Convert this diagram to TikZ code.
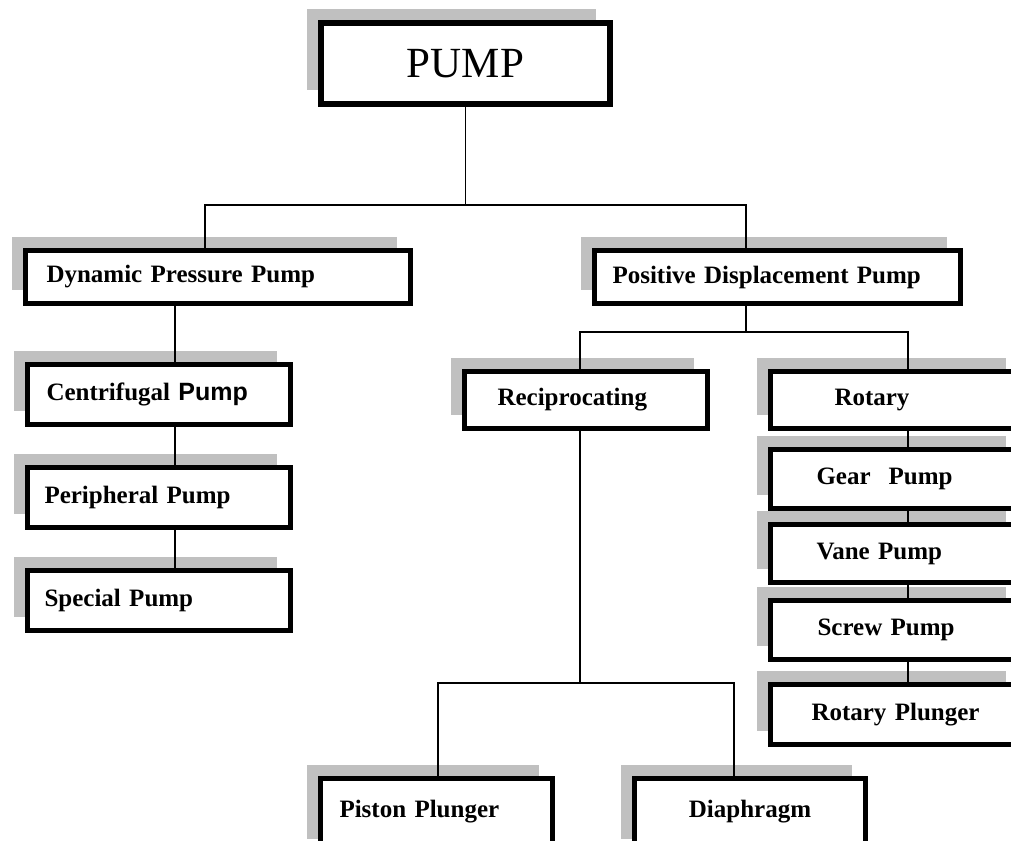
\documentclass[tikz,border=0pt]{standalone}
\usepackage{fontspec}
\setmainfont{Liberation Serif}
\newfontfamily\pumpsans{Liberation Sans}
\usetikzlibrary{shadows}
\definecolor{shadowgray}{RGB}{192,192,192}

\tikzset{
  pbox/.style={draw, fill=white, line width=5pt, align=left,
    inner xsep=0pt, inner ysep=0pt, minimum height=#1,
    font=\bfseries\fontsize{25}{30}\selectfont,
    general shadow={fill=shadowgray, shadow xshift=-14pt, shadow yshift=14pt}},
  pbox/.default=60pt,
  link/.style={line width=1.5pt},
}

\begin{document}
\begin{tikzpicture}[x=1pt, y=-1pt]

    % page frame
    \path[use as bounding box, clip] (0,0) rectangle (1011,840);

    % top
    \node[pbox=81pt, line width=6pt, text width=289pt, align=center,
          font=\fontsize{43}{50}\selectfont] (pump) at (465.5,63.5) {PUMP};

    % two main kinds
    \node[pbox=53pt, text width=385pt] (dyn) at (218,277) {\hspace*{21pt}Dynamic Pressure Pump};
    \node[pbox=53pt, text width=366pt] (pos) at (777.5,277) {\hspace*{18pt}Positive Displacement Pump};

    % dynamic column
    \node[pbox, text width=263pt] (cen) at (159,394.5) {\hspace*{19pt}Centrifugal {\pumpsans Pump}};
    \node[pbox, text width=263pt] (per) at (159,497.5) {\hspace*{17pt}Peripheral Pump};
    \node[pbox, text width=263pt] (spe) at (159,600.5) {\hspace*{17pt}Special Pump};

    % positive displacement
    \node[pbox=57pt, text width=243pt] (rec) at (586,400) {\hspace*{33pt}Reciprocating};
    \node[pbox=57pt, text width=249pt] (rot) at (895,400) {\hspace*{64pt}Rotary};
    \node[pbox=59pt, text width=249pt] (gea) at (895,479) {\hspace*{46pt}Gear\hspace*{18pt}Pump};
    \node[pbox=58pt, text width=249pt] (van) at (895,553.5) {\hspace*{46pt}Vane Pump};
    \node[pbox=59pt, text width=249pt] (scr) at (895,630) {\hspace*{47pt}Screw Pump};
    \node[pbox=60pt, text width=249pt] (rpl) at (895,714.5) {\hspace*{41pt}Rotary Plunger};

    % reciprocating kinds, cut by the page edge
    \node[pbox=74pt, text width=232pt, text depth=13pt] (pis) at (436.5,815.5) {\hspace*{19pt}Piston Plunger};
    \node[pbox=74pt, text width=231pt, text depth=13pt, align=center] (dia) at (750,815.5) {Diaphragm};

    % junction points
    \coordinate (ja) at (205,205);
    \coordinate (jb) at (746,205);
    \coordinate (jc) at (175,0);
    \coordinate (jd) at (580,332);
    \coordinate (je) at (908,332);
    \coordinate (jf) at (438,683);
    \coordinate (jg) at (734,683);

    % tree lines
    \draw[link] (pump.south) -- (pump.south |- ja);
    \draw[link] (ja |- dyn.north) -- (ja) -- (jb) -- (jb |- pos.north);

    \draw[link] (dyn.south -| jc) -- (cen.north -| jc);
    \draw[link] (cen.south -| jc) -- (per.north -| jc);
    \draw[link] (per.south -| jc) -- (spe.north -| jc);

    \draw[link] (pos.south -| jb) -- (jb |- jd);
    \draw[link] (jd |- rec.north) -- (jd) -- (je) -- (je |- rot.north);
    \foreach \a/\b in {rot/gea, gea/van, van/scr, scr/rpl}
        \draw[link] (\a.south -| je) -- (\b.north -| je);

    \draw[link] (rec.south -| jd) -- (jd |- jf);
    \draw[link] (jf |- pis.north) -- (jf) -- (jg) -- (jg |- dia.north);

\end{tikzpicture}
\end{document}
